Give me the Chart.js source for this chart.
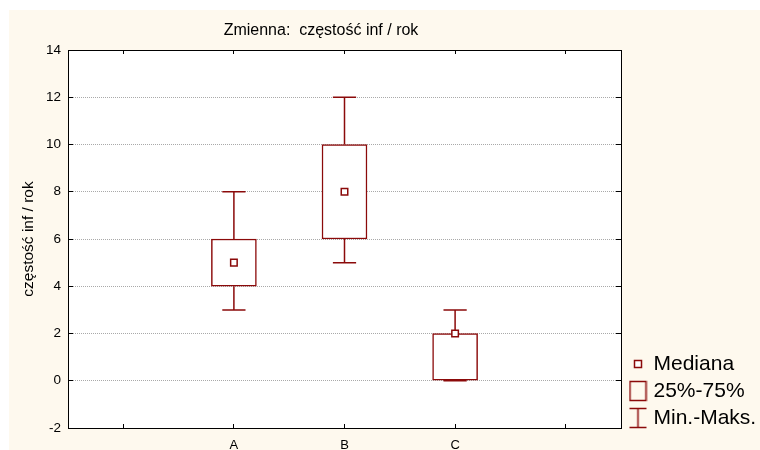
<!DOCTYPE html>
<html>
<head>
<meta charset="utf-8">
<script src="https://cdn.jsdelivr.net/npm/chart.js@4/dist/chart.umd.min.js"></script>
<style>
  html, body { margin: 0; padding: 0; background: #ffffff; }
  #wrap { width: 760px; height: 450px; }
</style>
</head>
<body>
<div id="wrap"><canvas id="c" width="760" height="450"></canvas></div>
<script>
// Group labels (empty slots pad both ends of the axis)
const groups = ['', 'A', 'B', 'C', ''];
// Summary statistics per group
const minVals    = [null, 3, 5, 0, null];
const q1Vals     = [null, 4, 6, 0, null];
const medianVals = [null, 5, 8, 2, null];
const q3Vals     = [null, 6, 10, 2, null];
const maxVals    = [null, 8, 12, 3, null];
// Value axis ticks
const yTicks = [-2, 0, 2, 4, 6, 8, 10, 12, 14];
// Texts
const titleText = 'Zmienna:  częstość inf / rok';
const yAxisTitle = 'częstość inf / rok';
const legendNames = ['Mediana', '25%-75%', 'Min.-Maks.'];

const FONT = "'Liberation Sans', Arial, sans-serif";
const RED = '#8b0a0a';
const CREAM = '#fef9ee';
const CAP = 0.105; // half width of whisker caps, in category units

// Whisker segments: vertical stems plus horizontal caps, separated by gaps
const whiskerPts = [];
groups.forEach((g, i) => {
  if (q1Vals[i] === null) return;
  const gap = { x: i, y: null };
  whiskerPts.push({ x: i, y: q3Vals[i] }, { x: i, y: maxVals[i] }, gap);
  whiskerPts.push({ x: i - CAP, y: maxVals[i] }, { x: i + CAP, y: maxVals[i] }, gap);
  whiskerPts.push({ x: i, y: q1Vals[i] }, { x: i, y: minVals[i] }, gap);
  whiskerPts.push({ x: i - CAP, y: minVals[i] }, { x: i + CAP, y: minVals[i] }, gap);
});
const boxData = groups.map((g, i) => q1Vals[i] === null ? null : [q1Vals[i], q3Vals[i]]);
const medianPts = groups.map((g, i) => ({ x: i, y: medianVals[i] })).filter(p => p.y !== null);

// Legend symbols
function makeIcon(w, h, draw) {
  const cv = document.createElement('canvas');
  cv.width = w; cv.height = h;
  const c = cv.getContext('2d');
  c.strokeStyle = RED; c.fillStyle = '#fff'; c.lineWidth = 1.5;
  draw(c);
  return cv;
}
const iconMedian = makeIcon(10, 10, c => { c.fillRect(1.5, 1.5, 7, 7); c.strokeRect(1.5, 1.5, 7, 7); });
const iconBox = makeIcon(19, 22, c => { c.strokeRect(1.5, 1.5, 16, 19); });
const iconWhisker = makeIcon(19, 22, c => {
  c.beginPath();
  c.moveTo(1, 1.5); c.lineTo(18, 1.5);
  c.moveTo(9.5, 1.5); c.lineTo(9.5, 20.5);
  c.moveTo(1, 20.5); c.lineTo(18, 20.5);
  c.stroke();
});
const legendIcons = [iconMedian, iconBox, iconWhisker];

const framePlugin = {
  id: 'frame',
  beforeDraw(chart) {
    const { ctx, chartArea: a } = chart;
    ctx.save();
    ctx.fillStyle = CREAM;
    ctx.fillRect(9, 10, chart.width - 9, chart.height - 10);
    ctx.fillStyle = '#ffffff';
    ctx.fillRect(a.left, a.top, a.right - a.left, a.bottom - a.top);
    ctx.restore();
  },
  afterDraw(chart) {
    const { ctx } = chart;
    ctx.save();
    ctx.fillStyle = '#000';
    ctx.font = '16px ' + FONT;
    ctx.textAlign = 'center';
    ctx.textBaseline = 'middle';
    ctx.fillText(titleText, 321, 31);
    ctx.restore();
  }
};

const innerTicks = (len) => ({
  display: true, drawOnChartArea: false, drawTicks: true,
  tickLength: len, tickColor: '#000', tickWidth: 1, offset: false
});

new Chart(document.getElementById('c'), {
  type: 'bar',
  data: {
    labels: groups,
    datasets: [
      {
        type: 'line', label: legendNames[0], xAxisID: 'x2', yAxisID: 'y',
        data: medianPts, showLine: false, order: 0,
        pointStyle: 'rect', pointRadius: 4.6, pointBorderWidth: 1.5,
        pointBackgroundColor: '#ffffff', pointBorderColor: RED
      },
      {
        type: 'bar', label: legendNames[1], xAxisID: 'x', yAxisID: 'y',
        data: boxData, order: 1, grouped: false,
        backgroundColor: '#ffffff', borderColor: RED, borderWidth: 1.5,
        borderSkipped: false, barThickness: 45, maxBarThickness: 45
      },
      {
        type: 'line', label: legendNames[2], xAxisID: 'x2', yAxisID: 'y',
        data: whiskerPts, order: 2, spanGaps: false, fill: false,
        borderColor: RED, borderWidth: 1.5, pointRadius: 0, tension: 0
      }
    ]
  },
  options: {
    responsive: false,
    animation: false,
    events: [],
    layout: { padding: { top: 50, left: 0, right: 0, bottom: 0 } },
    plugins: {
      title: { display: false },
      tooltip: { enabled: false },
      legend: {
        display: true, position: 'right', align: 'start', fullSize: true, maxWidth: 133,
        // empty title block used as top spacing so the legend sits at the lower right
        title: { display: true, text: '', font: { size: 12, lineHeight: 1.2 }, padding: { top: 283.1, bottom: 0 } },
        labels: {
          usePointStyle: true, pointStyleWidth: 10, padding: 6, color: '#000',
          font: { family: FONT, size: 21 },
          generateLabels: () => legendNames.map((t, i) => ({
            text: t, pointStyle: legendIcons[i], fillStyle: '#fff',
            strokeStyle: RED, lineWidth: 0, hidden: false, datasetIndex: i, fontColor: '#000'
          }))
        }
      }
    },
    scales: {
      x: {
        type: 'category', labels: groups, position: 'bottom', offset: true,
        grid: innerTicks(-4),
        border: { display: true, color: '#000', width: 1 },
        ticks: { color: '#000', font: { family: FONT, size: 13 }, padding: 14, maxRotation: 0, autoSkip: false },
        afterFit(s) { s.height = 22; }
      },
      xTop: {
        type: 'category', labels: groups, position: 'top', offset: true,
        grid: innerTicks(-4),
        border: { display: true, color: '#000', width: 1 },
        ticks: { display: false },
        afterFit(s) { s.height = 0; }
      },
      x2: { type: 'linear', min: -0.5, max: 4.5, display: false, offset: false },
      y: {
        type: 'linear', position: 'left', min: -2, max: 14,
        afterBuildTicks(s) { s.ticks = yTicks.map(v => ({ value: v })); },
        grid: {
          display: true, drawOnChartArea: true, drawTicks: true, tickLength: -5,
          tickColor: '#000', tickWidth: 1, lineWidth: 1,
          color: c => (c.tick && (c.tick.value === -2 || c.tick.value === 14)) ? 'rgba(0,0,0,0)' : '#a9a9a9'
        },
        border: { display: true, color: '#000', width: 1, dash: [1, 1] },
        ticks: { color: '#000', font: { family: FONT, size: 13.5 }, padding: 12 },
        title: {
          display: true, text: yAxisTitle, color: '#000',
          font: { family: FONT, size: 15.5 }, padding: { top: 19, bottom: 0 }
        },
        afterFit(s) { s.width = 68; }
      },
      yRight: {
        type: 'linear', position: 'right', min: -2, max: 14,
        afterBuildTicks(s) { s.ticks = yTicks.map(v => ({ value: v })); },
        grid: innerTicks(-5),
        border: { display: true, color: '#000', width: 1 },
        ticks: { display: false },
        afterFit(s) { s.width = 6; }
      }
    }
  },
  plugins: [framePlugin]
});
</script>
</body>
</html>
